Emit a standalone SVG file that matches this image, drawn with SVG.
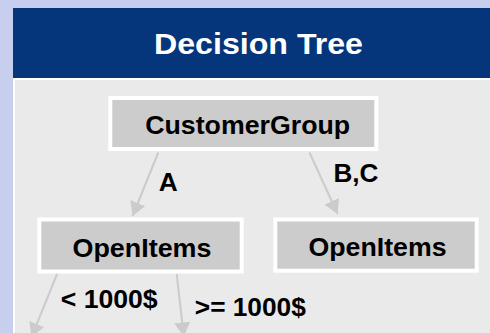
<svg xmlns="http://www.w3.org/2000/svg" width="490" height="333" viewBox="0 0 490 333">
  <style>
    .node rect { fill: #cccccc; stroke: #ffffff; stroke-width: 4; }
    .lbl { font-family: "Liberation Sans", Arial, Helvetica, sans-serif; font-weight: bold; font-size: 25px; fill: #000000; text-anchor: middle; }
    .title { font-family: "Liberation Sans", Arial, Helvetica, sans-serif; font-weight: bold; font-size: 29.5px; fill: #ffffff; text-anchor: middle; }
    .edge { stroke: #cbcbcb; stroke-width: 2; fill: none; marker-end: url(#arr); }
  </style>
  <defs>
    <marker id="arr" markerUnits="userSpaceOnUse" markerWidth="14" markerHeight="16" refX="14" refY="8" orient="auto" viewBox="0 0 14 16">
      <path d="M0,0 L14,8 L0,16 Z" fill="#cbcbcb"/>
    </marker>
  </defs>
  <rect x="0" y="0" width="490" height="333" fill="#c8cfee"/>
  <rect x="13" y="8" width="477" height="70" fill="#05357a"/>
  <rect x="13" y="78" width="477" height="255" fill="#ffffff"/>
  <rect x="15" y="80" width="475" height="253" fill="#eaeaea"/>
  <text class="title" x="258.5" y="54" textLength="209" lengthAdjust="spacingAndGlyphs">Decision Tree</text>

  <g id="edges">
    <line class="edge" x1="158.3" y1="152.5" x2="132.5" y2="216"/>
    <line class="edge" x1="309.5" y1="152.5" x2="337.6" y2="214"/>
    <line class="edge" x1="57.3" y1="273.5" x2="31.5" y2="337"/>
    <line class="edge" x1="176.7" y1="274" x2="183.8" y2="336.5"/>
    <text class="lbl" x="168.3" y="190.7" textLength="19" lengthAdjust="spacingAndGlyphs">A</text>
    <text class="lbl" x="356" y="181.7" textLength="45" lengthAdjust="spacingAndGlyphs">B,C</text>
    <text class="lbl" x="109.2" y="308.3" textLength="97" lengthAdjust="spacingAndGlyphs">&lt; 1000$</text>
    <text class="lbl" x="250.3" y="315.7" textLength="111" lengthAdjust="spacingAndGlyphs">&gt;= 1000$</text>
  </g>

  <g id="node-customergroup" class="node">
    <rect x="110.3" y="98" width="266" height="51"/>
    <text class="lbl" x="247.7" y="134" textLength="205" lengthAdjust="spacingAndGlyphs">CustomerGroup</text>
  </g>
  <g id="node-openitems-a" class="node">
    <rect x="39.3" y="219.5" width="202.4" height="52"/>
    <text class="lbl" x="142" y="256.6" textLength="139" lengthAdjust="spacingAndGlyphs">OpenItems</text>
  </g>
  <g id="node-openitems-bc" class="node">
    <rect x="275.3" y="219.5" width="201.4" height="51.2"/>
    <text class="lbl" x="377.5" y="256" textLength="138" lengthAdjust="spacingAndGlyphs">OpenItems</text>
  </g>
</svg>
